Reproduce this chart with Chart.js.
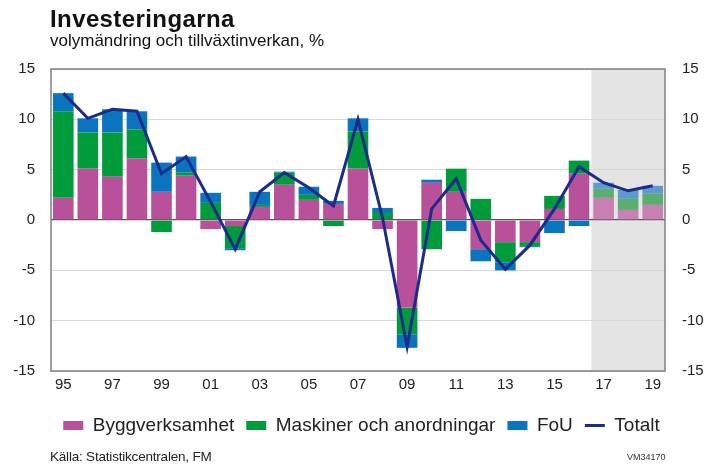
<!DOCTYPE html>
<html>
<head>
<meta charset="utf-8">
<script src="https://cdn.jsdelivr.net/npm/chart.js@4/dist/chart.umd.min.js"></script>
<style>
  body { margin: 0; background: #fff; font-family: "Liberation Sans", Arial, sans-serif; }
  #wrap { position: relative; width: 723px; height: 465px; }
  #chart { position: absolute; left: 0; top: 0; }
  .title { position: absolute; left: 50px; top: 5px; font-size: 24px; font-weight: bold; color: #111; letter-spacing: 0.4px; }
  .sub { position: absolute; left: 50px; top: 31px; font-size: 17px; color: #111; }
  .src { position: absolute; left: 50px; top: 449px; font-size: 13.5px; color: #222; letter-spacing: -0.2px; }
  .code { position: absolute; left: 627px; top: 452px; font-size: 9px; color: #333; }
</style>
</head>
<body>
<div id="wrap">
  <canvas id="chart" width="723" height="465"></canvas>
  <div class="title">Investeringarna</div>
  <div class="sub">volymändring och tillväxtinverkan, %</div>
  <div class="src">Källa: Statistikcentralen, FM</div>
  <div class="code">VM34170</div>
</div>
<script>
// Data
const years = ['95', '96', '97', '98', '99', '00', '01', '02', '03', '04', '05', '06', '07',
               '08', '09', '10', '11', '12', '13', '14', '15', '16', '17', '18', '19'];
const bygg = [2.2, 5.1, 4.3, 6.1, 2.8, 4.4, -0.9, -0.6, 1.3, 3.5, 2.0, 1.6, 5.1,
              -0.9, -8.7, 3.7, 2.8, -2.9, -2.2, -2.2, 1.1, 4.6, 2.2, 1.0, 1.5];
const maskiner = [8.6, 3.6, 4.4, 2.9, -1.2, 0.3, 1.7, -2.2, 0.2, 1.2, 0.5, -0.6, 3.7,
                  0.7, -2.7, -2.9, 2.3, 2.1, -2.0, -0.4, 1.3, 1.3, 0.9, 1.1, 1.1];
const fou = [1.8, 1.4, 2.3, 1.8, 2.9, 1.6, 1.0, -0.2, 1.3, 0.1, 0.8, 0.3, 1.3,
             0.5, -1.3, 0.3, -1.1, -1.2, -0.8, -0.1, -1.3, -0.6, 0.6, 0.9, 0.8];
const totalt = [12.6, 10.1, 11.0, 10.8, 4.6, 6.3, 1.8, -2.9, 2.8, 4.7, 3.2, 1.4, 10.0,
                0.2, -12.6, 1.1, 4.1, -2.0, -4.9, -2.5, 1.1, 5.3, 3.7, 2.9, 3.4];
const firstForecast = 22; // 2017 onwards is forecast

// forecast bars are drawn lighter
function colors(base, light) {
  return years.map((y, i) => i >= firstForecast ? light : base);
}

// grey forecast band behind everything, frame on top
const forecastBand = {
  id: 'forecastBand',
  beforeDraw(chart) {
    const { ctx, chartArea, scales } = chart;
    const x0 = scales.x.getPixelForValue(firstForecast) - scales.x.width / years.length / 2;
    ctx.save();
    ctx.fillStyle = '#e4e4e4';
    ctx.fillRect(x0, chartArea.top, chartArea.right - x0, chartArea.bottom - chartArea.top);
    ctx.restore();
  },
  afterDraw(chart) {
    const { ctx, chartArea } = chart;
    ctx.save();
    ctx.strokeStyle = '#7f7f7f';
    ctx.lineWidth = 1.5;
    ctx.strokeRect(chartArea.left, chartArea.top, chartArea.right - chartArea.left, chartArea.bottom - chartArea.top);
    ctx.restore();
  }
};

const ctx = document.getElementById('chart').getContext('2d');
const chart = new Chart(ctx, {
  data: {
    labels: years,
    datasets: [
      {
        type: 'line',
        label: 'Totalt',
        data: totalt,
        yAxisID: 'y2',
        borderColor: '#1c2b8c',
        backgroundColor: '#1c2b8c',
        borderWidth: 3,
        pointRadius: 0,
        tension: 0,
        pointStyle: 'line',
        order: 0
      },
      {
        type: 'bar',
        label: 'Byggverksamhet',
        data: bygg,
        backgroundColor: colors('#b8509a', '#c87fb1'),
        pointStyle: 'rect',
        order: 1
      },
      {
        type: 'bar',
        label: 'Maskiner och anordningar',
        data: maskiner,
        backgroundColor: colors('#009c3b', '#5cad72'),
        pointStyle: 'rect',
        order: 1
      },
      {
        type: 'bar',
        label: 'FoU',
        data: fou,
        backgroundColor: colors('#0b74bf', '#5e9bcd'),
        pointStyle: 'rect',
        order: 1
      }
    ]
  },
  options: {
    responsive: false,
    animation: false,
    layout: { padding: { left: 0, right: 0, top: 69, bottom: 20 } },
    datasets: { bar: { barPercentage: 0.84, categoryPercentage: 1.0, borderWidth: 0 } },
    scales: {
      x: {
        stacked: true,
        grid: { display: false, drawTicks: false },
        border: { display: false },
        ticks: {
          autoSkip: false,
          maxRotation: 0,
          padding: 5,
          color: '#222',
          font: { family: 'Liberation Sans', size: 15 },
          callback: (v, i) => i % 2 === 0 ? years[i] : ''
        },
        afterFit: s => { s.height = 33; }
      },
      y: {
        stacked: true,
        min: -15, max: 15,
        grid: {
          drawTicks: false,
          color: ctx => ctx.tick.value === 0 ? '#555' : '#d9d9d9',
          lineWidth: ctx => ctx.tick.value === 0 ? 1.2 : 1
        },
        border: { display: false },
        ticks: { stepSize: 5, padding: 16, color: '#222', font: { family: 'Liberation Sans', size: 15 } },
        afterFit: s => { s.width = 51; }
      },
      y2: {
        position: 'right',
        min: -15, max: 15,
        grid: { display: false, drawTicks: false },
        border: { display: false },
        ticks: { stepSize: 5, padding: 17, color: '#222', font: { family: 'Liberation Sans', size: 15 } },
        afterFit: s => { s.width = 58; }
      }
    },
    plugins: {
      legend: {
        position: 'bottom',
        labels: {
          usePointStyle: true,
          pointStyleWidth: 20,
          boxHeight: 9,
          padding: 12,
          color: '#222',
          font: { family: 'Liberation Sans', size: 19 },
          sort: (a, b) => (a.datasetIndex === 0 ? 1 : 0) - (b.datasetIndex === 0 ? 1 : 0)
        }
      },
      tooltip: { enabled: false }
    }
  },
  plugins: [forecastBand]
});
</script>
</body>
</html>
